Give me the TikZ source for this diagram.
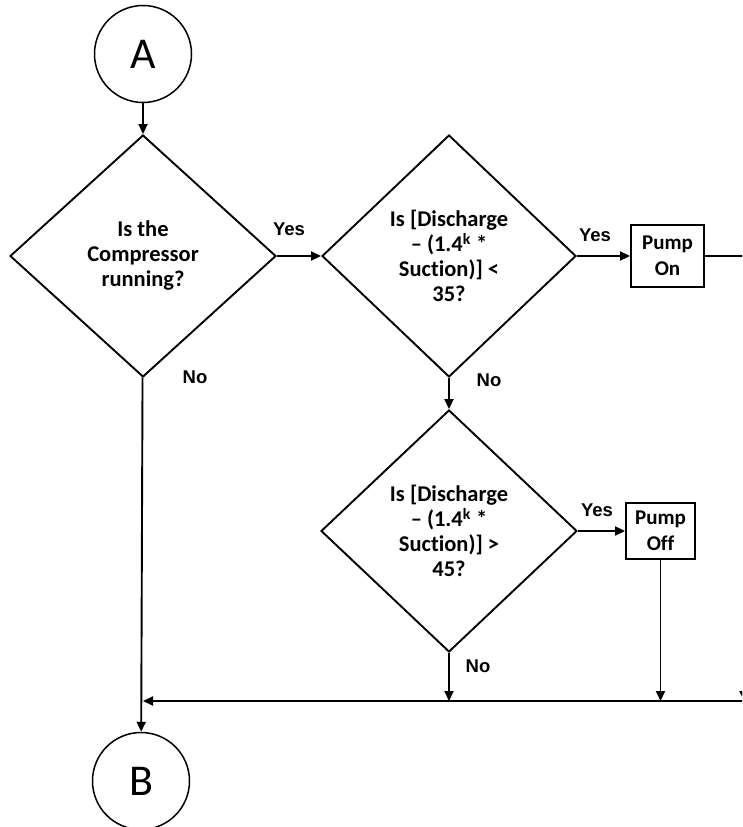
\documentclass[tikz,border=0pt]{standalone}
\usepackage{fontspec}
\setmainfont{Carlito}[Ligatures=NoCommon]
\newfontfamily\arialfont{Liberation Sans}
\usetikzlibrary{arrows.meta,shapes.geometric}
\tikzset{
  cnode/.style={circle,draw,line width=1.5pt,minimum size=97pt,inner sep=0pt,font=\fontsize{44}{44}\selectfont},
  qnode/.style={diamond,draw,line width=1.9pt,inner sep=0pt,align=center,font=\fontsize{22.5}{25}\selectfont\bfseries},
  pnode/.style={rectangle,draw,line width=1.9pt,inner sep=0pt,align=center,font=\fontsize{21}{26}\selectfont\bfseries},
  lbl/.style={inner sep=0pt,font=\arialfont\fontsize{18.5}{18.5}\selectfont\bfseries},
  ae/.style={-{Triangle[length=10pt,width=9pt]},line width=1.9pt}
}
\begin{document}
\begin{tikzpicture}[x=1pt,y=-1pt]
\useasboundingbox (0,0) rectangle (742,827);
\clip (0,0) rectangle (742,827);
\node[cnode] (A) at (143,54) {A};
\node[qnode,minimum width=266pt,minimum height=242pt] (Q1) at (143,256) {Is the\\Compressor\\running?};
\node[qnode,minimum width=254pt,minimum height=242pt] (Q2) at (449,256) {Is [Discharge\\– (1.4\textsuperscript{k} *\\Suction)] <\\35?};
\node[qnode,minimum width=256pt,minimum height=242pt] (Q3) at (449,531) {Is [Discharge\\– (1.4\textsuperscript{k} *\\Suction)] >\\45?};
\node[pnode,minimum width=73pt,minimum height=62pt] (P1) at (667.5,256) {Pump\\On};
\node[pnode,minimum width=69pt,minimum height=56pt] (P2) at (660.5,531) {Pump\\Off};
\node[cnode] (B) at (141,781) {B};
\coordinate (R1) at (744,256);
\coordinate (R2) at (744,701);
\node[lbl] (y1) at (289,229) {Yes};
\node[lbl] (y2) at (595,235) {Yes};
\node[lbl] (y3) at (597,510) {Yes};
\node[lbl] (n1) at (195,377) {No};
\node[lbl] (n2) at (489,380) {No};
\node[lbl] (n3) at (478,666) {No};
\draw[ae] (A) -- (Q1);
\draw[ae] (Q1) -- (Q2); \draw[ae] (Q2) -- (P1);
\draw[ae] (Q2) -- (Q3); \draw[ae] (Q3) -- (P2);
\draw[ae] (P1) -- (R1) -- (R2);
\draw[ae] (Q3) -- (Q3 |- R2);
\draw[ae] (P2) -- (P2 |- R2);
\draw[ae] (R2) -- (Q1.south |- R2);
\draw[ae] (Q1) -- (B);
\end{tikzpicture}
\end{document}
